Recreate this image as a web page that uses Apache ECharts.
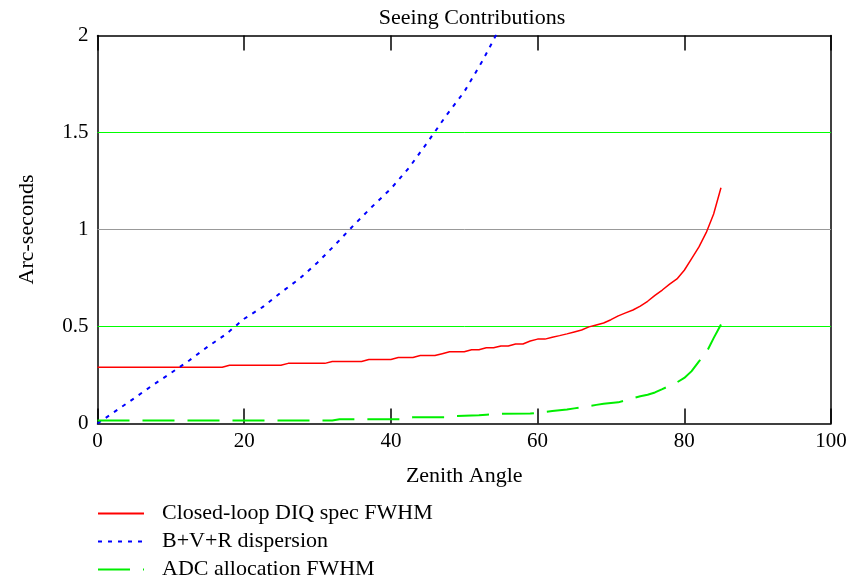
<!DOCTYPE html>
<html>
<head>
<meta charset="utf-8">
<script src="https://cdn.jsdelivr.net/npm/echarts@6/dist/echarts.min.js"></script>
<style>html,body{margin:0;padding:0;background:#fff;}#c{width:854px;height:581px;}</style>
</head>
<body>
<div id="c"></div>
<script>
const titleText = "Seeing Contributions";
const xName = "Zenith Angle";
const yName = "Arc-seconds";
const seriesNames = ["Closed-loop DIQ spec FWHM", "B+V+R dispersion", "ADC allocation FWHM"];

const redX = [0,17,18,25,26,31,32,36,37,40,41,43,44,46,47,48,50,51,52,53,54,55,56,57,58,59,60,61,62,63,64,65,66,67,68,69,70,71,72,73,74,75,76,77,78,79,80,81,82,83,84,85];
const redY = [0.29,0.29,0.30,0.30,0.31,0.31,0.32,0.32,0.33,0.33,0.34,0.34,0.35,0.35,0.36,0.37,0.37,0.38,0.38,0.39,0.39,0.40,0.40,0.41,0.41,0.425,0.435,0.435,0.445,0.453,0.462,0.472,0.482,0.498,0.508,0.518,0.535,0.555,0.57,0.585,0.605,0.63,0.66,0.688,0.718,0.745,0.79,0.85,0.91,0.985,1.08,1.215];

const blueX = [0,2.5,5,7.5,10,12.5,15,17.5,20,22.5,25,27.5,30,32.5,35,37.5,40,42.5,45,47.5,50,52.5,55];
const blueY = [0,0.065,0.13,0.197,0.26,0.325,0.395,0.46,0.54,0.6,0.675,0.745,0.83,0.925,1.025,1.12,1.21,1.32,1.45,1.585,1.71,1.87,2.05];

const greenX = [0,32,33,42,43,48,49,52,53,55,59,60,61,62,63,64,65,66,67,68,69,70,71,72,73,74,75,76,77,78,79,80,81,82,83,84,85];
const greenY = [0.015,0.015,0.022,0.022,0.032,0.032,0.038,0.042,0.045,0.05,0.051,0.055,0.06,0.064,0.068,0.072,0.078,0.084,0.09,0.096,0.102,0.106,0.109,0.12,0.13,0.14,0.148,0.16,0.177,0.195,0.212,0.235,0.27,0.32,0.365,0.44,0.51];

const gridValues = [0.5, 1, 1.5];
const gridColors = ['#00ff00', '#999999', '#00ff00'];

const zip = (xs, ys) => xs.map((x, i) => [x, ys[i]]);
const font = "Liberation Serif";

const chart = echarts.init(document.getElementById('c'), null, {renderer: 'canvas'});
chart.setOption({
  animation: false,
  backgroundColor: '#fff',
  title: {
    text: titleText, left: 472, top: 7, textAlign: 'center', padding: 0,
    textStyle: {fontFamily: font, fontSize: 22, fontWeight: 'normal', color: '#000'}
  },
  grid: {left: 97.5, right: 23, top: 35.5, bottom: 157.5, containLabel: false},
  legend: {
    orient: 'vertical', left: 97, top: 502.5, height: 79, padding: 0, itemWidth: 46, itemHeight: 14, itemGap: 6,
    itemStyle: {opacity: 0},
    textStyle: {fontFamily: font, fontSize: 22, color: '#000', padding: [0, 0, 0, 13], lineHeight: 22},
    data: seriesNames
  },
  xAxis: [{
    type: 'value', min: 0, max: 100, interval: 20, position: 'bottom',
    name: xName, nameLocation: 'middle', nameGap: 42,
    nameTextStyle: {fontFamily: font, fontSize: 22, color: '#000'},
    axisLine: {show: true, onZero: false, lineStyle: {color: '#000', width: 1.5}},
    axisTick: {show: true, inside: true, length: 15, lineStyle: {color: '#000', width: 1.5}},
    axisLabel: {fontFamily: font, fontSize: 21, color: '#000', margin: 7},
    splitLine: {show: false}
  }, {
    type: 'value', min: 0, max: 100, interval: 20, position: 'top',
    axisLine: {show: true, onZero: false, lineStyle: {color: '#000', width: 1.5}},
    axisTick: {show: true, inside: true, length: 15, lineStyle: {color: '#000', width: 1.5}},
    axisLabel: {show: false},
    splitLine: {show: false}
  }],
  yAxis: [{
    type: 'value', min: 0, max: 2, interval: 0.5, position: 'left',
    name: yName, nameLocation: 'middle', nameGap: 59, nameRotate: 90,
    nameTextStyle: {fontFamily: font, fontSize: 22, color: '#000'},
    axisLine: {show: true, onZero: false, lineStyle: {color: '#000', width: 1.5}},
    axisTick: {show: false},
    axisLabel: {fontFamily: font, fontSize: 21, color: '#000', margin: 9,
      formatter: v => String(v)},
    splitLine: {show: false}
  }, {
    type: 'value', min: 0, max: 2, interval: 0.5, position: 'right',
    axisLine: {show: true, onZero: false, lineStyle: {color: '#000', width: 1.5}},
    axisTick: {show: false}, axisLabel: {show: false}, splitLine: {show: false}
  }],
  series: [{
    name: seriesNames[0], type: 'line', data: zip(redX, redY), symbol: 'none', clip: true, z: 3,
    lineStyle: {color: '#ff0000', width: 1.5}, itemStyle: {color: '#ff0000'},
    markLine: {
      silent: true, symbol: 'none', label: {show: false}, z: 1,
      data: gridValues.map((v, i) => ({yAxis: v, lineStyle: {color: gridColors[i], width: 1, type: 'solid'}}))
    }
  }, {
    name: seriesNames[1], type: 'line', data: zip(blueX, blueY), symbol: 'none', clip: true, z: 3,
    lineStyle: {color: '#0000ff', width: 2, type: [4, 6]}, itemStyle: {color: '#0000ff'}
  }, {
    name: seriesNames[2], type: 'line', data: zip(greenX, greenY), symbol: 'none', clip: true, z: 3,
    lineStyle: {color: '#00ee00', width: 2, type: [32, 13]}, itemStyle: {color: '#00ee00'}
  }]
});
</script>
</body>
</html>
